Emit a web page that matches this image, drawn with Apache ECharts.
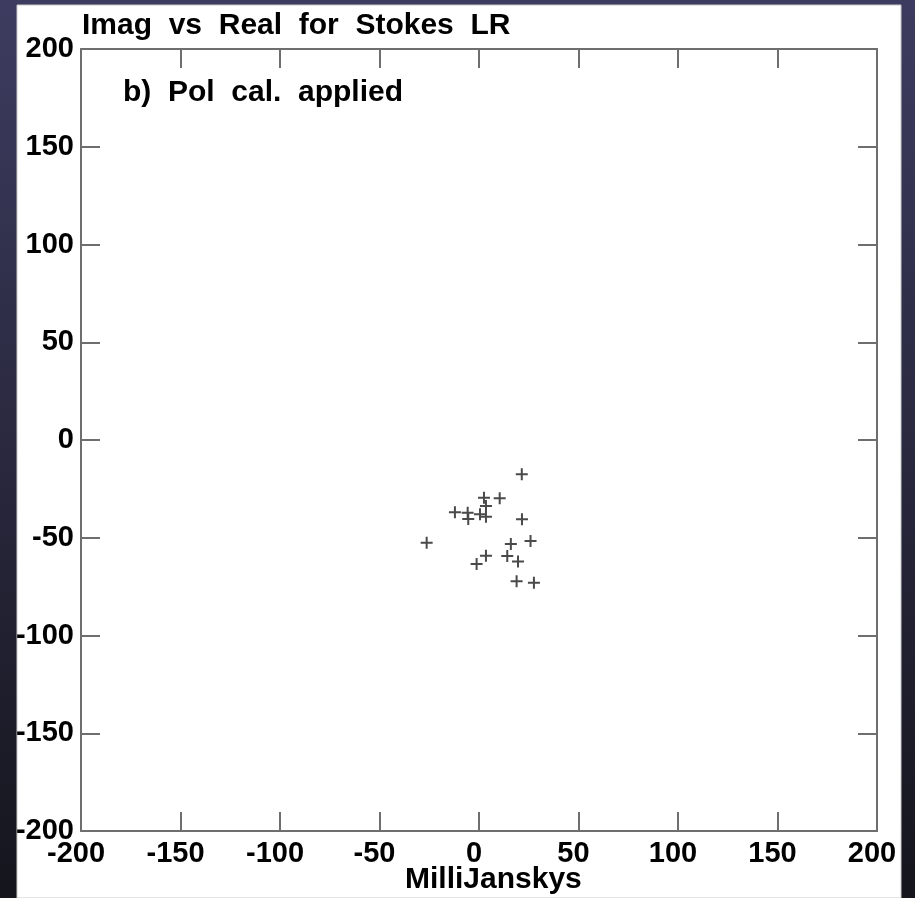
<!DOCTYPE html>
<html>
<head>
<meta charset="utf-8">
<script src="https://cdn.jsdelivr.net/npm/echarts@6/dist/echarts.min.js"></script>
<style>
html,body{margin:0;padding:0;background:#2a2a40;}
#chart{width:915px;height:898px;}
</style>
</head>
<body>
<div id="chart"></div>
<script>
// Data (Real vs Imag, milliJanskys)
var realVals = [21.5, 2.5, 10.4, 3.5, -12.1, -5.7, 0.5, 3.5, -5.4, 21.6, 25.9, -26.3, 16.0, 3.5, 14.2, 19.6, -1.2, 18.9, 27.6];
var imagVals = [-17.5, -29.5, -29.8, -33.8, -37.0, -37.2, -38.0, -39.2, -40.4, -40.6, -51.7, -52.5, -53.2, -59.2, -59.3, -62.2, -63.4, -72.3, -73.0];
var axisMin = -200, axisMax = 200, axisStep = 50;
var titleText = 'Imag  vs  Real  for  Stokes  LR';
var panelText = 'b)  Pol  cal.  applied';
var xAxisTitle = 'MilliJanskys';

var points = realVals.map(function (r, i) { return [r, imagVals[i]]; });

var chart = echarts.init(document.getElementById('chart'));
var FONT = '"Liberation Sans", Arial, Helvetica, sans-serif';
var lineCol = '#6e6e6e';
var gridBox = {left: 81, top: 49, width: 796, height: 782};

function baseAxis(extra) {
  var a = {
    type: 'value', min: axisMin, max: axisMax, interval: axisStep,
    axisLine: {show: true, onZero: false, lineStyle: {color: lineCol, width: 2}},
    axisTick: {show: true, inside: true, length: 19, lineStyle: {color: lineCol, width: 2}},
    splitLine: {show: false},
    axisLabel: {show: false}
  };
  for (var k in extra) a[k] = extra[k];
  return a;
}

var option = {
  animation: false,
  backgroundColor: {
    type: 'linear', x: 0, y: 0, x2: 0, y2: 1,
    colorStops: [{offset: 0, color: '#3d3c60'}, {offset: 1, color: '#15151d'}]
  },
  grid: gridBox,
  graphic: [
    {type: 'rect', z: -10, shape: {x: 17, y: 5, width: 884, height: 893}, style: {fill: '#ffffff', stroke: '#c8c8c8', lineWidth: 1}},
    {type: 'text', z: 10, left: 82, top: 11, style: {text: titleText, font: 'bold 30px ' + FONT, fill: '#000'}},
    {type: 'text', z: 10, left: 123, top: 78, style: {text: panelText, font: 'bold 30px ' + FONT, fill: '#000'}},
    {type: 'text', z: 10, left: 405, top: 865, style: {text: xAxisTitle, font: 'bold 30px ' + FONT, fill: '#000'}}
  ],
  xAxis: [
    baseAxis({position: 'bottom', axisLabel: {show: true, color: '#000', fontFamily: FONT, fontWeight: 'bold', fontSize: 29, margin: 8, padding: [0, 10, 0, 0], showMinLabel: true, showMaxLabel: true, hideOverlap: false}}),
    baseAxis({position: 'top'})
  ],
  yAxis: [
    baseAxis({position: 'left', axisLabel: {show: true, color: '#000', fontFamily: FONT, fontWeight: 'bold', fontSize: 29, margin: 7, showMinLabel: true, showMaxLabel: true, hideOverlap: false}}),
    baseAxis({position: 'right'})
  ],
  series: [{
    type: 'scatter',
    xAxisIndex: 0, yAxisIndex: 0,
    data: points,
    symbol: 'path://M5,0L5,10M0,5L10,5',
    symbolSize: 12,
    itemStyle: {color: 'none', borderColor: '#4a4a4a', borderWidth: 2, opacity: 1}
  }]
};
chart.setOption(option);
</script>
</body>
</html>
